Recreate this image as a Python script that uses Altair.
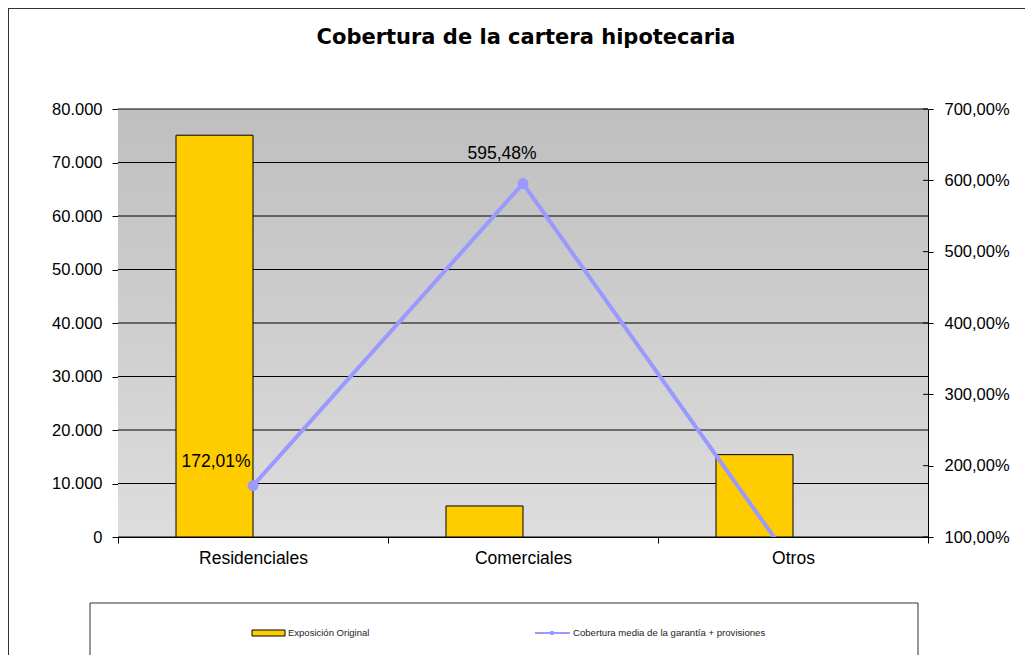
import altair as alt
import pandas as pd

categories = ["Residenciales", "Comerciales", "Otros"]
exposicion = [75100, 5800, 15400]
cobertura = [172.01, 595.48, 62.4]
left_ticks = [0, 10000, 20000, 30000, 40000, 50000, 60000, 70000, 80000]
right_ticks = [100, 200, 300, 400, 500, 600, 700]
title_text = "Cobertura de la cartera hipotecaria"
legend_bar = "Exposición Original"
legend_line = "Cobertura media de la garantía + provisiones"

df = pd.DataFrame({"cat": categories, "exp": exposicion, "cov": cobertura})
grid_df = pd.DataFrame({"g": left_ticks})
rtick_df = pd.DataFrame({"cov": right_ticks})

W, H = 810, 428
FONT = "Liberation Sans"
LINE_COLOR = "#9999ff"

xenc = alt.X("cat:N", sort=categories,
             scale=alt.Scale(paddingInner=0, paddingOuter=0),
             axis=alt.Axis(title=None, tickBand="extent", labelAngle=0,
                           labelFont=FONT, labelFontSize=17.5, labelColor="#000",
                           labelPadding=6, tickSize=6, tickColor="#000",
                           domainColor="#000", grid=False))

left_scale = alt.Scale(domain=[0, 80000], nice=False)
left_axis = alt.Axis(title=None, values=left_ticks, orient="left",
                     labelExpr="replace(format(datum.value, ',.0f'), ',', '.')",
                     labelFont=FONT, labelFontSize=16.5, labelColor="#000",
                     labelPadding=10, tickSize=6, tickColor="#000",
                     domainColor="#000", grid=False)
right_scale = alt.Scale(domain=[100, 700], nice=False)
right_axis = alt.Axis(title=None, values=right_ticks, orient="right",
                      labelExpr="replace(format(datum.value, '.2f'), '.', ',') + '%'",
                      labelFont=FONT, labelFontSize=16.5, labelColor="#000",
                      labelPadding=11, tickSize=5, tickColor="#000",
                      domainColor="#000", grid=False)
yleft = alt.Y("exp:Q", scale=left_scale, axis=left_axis)
yright = alt.Y("cov:Q", scale=right_scale, axis=right_axis)

one = alt.Data(values=[{"a": 1}])

background = alt.Chart(one).mark_rect(
    color=alt.Gradient(gradient="linear",
                       stops=[alt.GradientStop(color="#bfbfbf", offset=0),
                              alt.GradientStop(color="#dddddd", offset=1)],
                       x1=0, x2=0, y1=0, y2=1)
).encode(x=alt.value(0), x2=alt.value(W), y=alt.value(0), y2=alt.value(H))

grid = alt.Chart(grid_df).mark_rule(color="#000", strokeWidth=1).encode(
    y=alt.Y("g:Q", scale=left_scale, axis=left_axis))

bars = alt.Chart(df).mark_bar(
    width=77, xOffset=-38.5, color="#ffcc00", stroke="#000", strokeWidth=1
).encode(x=xenc, y=yleft)

left_layer = alt.layer(background, grid, bars)

rticks = alt.Chart(rtick_df).mark_rule(color="#000", strokeWidth=1).encode(
    x=alt.value(W - 5), x2=alt.value(W), y=yright)

line = alt.Chart(df).mark_line(color=LINE_COLOR, strokeWidth=4, clip=True).encode(
    x=xenc, y=yright)
points = alt.Chart(df).mark_circle(color=LINE_COLOR, size=120, opacity=1, clip=True).encode(
    x=xenc, y=yright)

lab_base = alt.Chart(df).transform_calculate(
    lbl="replace(format(datum.cov, '.2f'), '.', ',') + '%'")
lab1 = lab_base.transform_filter(alt.datum.cat == categories[0]).mark_text(
    font=FONT, fontSize=17.5, color="#000", dx=-37, dy=-24).encode(x=xenc, y=yright, text="lbl:N")
lab2 = lab_base.transform_filter(alt.datum.cat == categories[1]).mark_text(
    font=FONT, fontSize=17.5, color="#000", dx=-21, dy=-30).encode(x=xenc, y=yright, text="lbl:N")

cov_layer = alt.layer(rticks, line, points, lab1, lab2)

# title, chart frame and legend box (decoration)
title = alt.Chart(one).mark_text(font="DejaVu Sans", fontSize=21, fontWeight="bold",
                                 color="#000", align="center", baseline="middle").encode(
    x=alt.value(408), y=alt.value(-71), text=alt.value(title_text))
frame = alt.Chart(one).mark_rect(fill=None, stroke="#333", strokeWidth=2).encode(
    x=alt.value(-110), x2=alt.value(1040), y=alt.value(-101), y2=alt.value(700))
legbox = alt.Chart(one).mark_rect(fill="white", stroke="#333", strokeWidth=1).encode(
    x=alt.value(-28), x2=alt.value(800), y=alt.value(494), y2=alt.value(600))
legsym1 = alt.Chart(one).mark_rect(color="#ffcc00", stroke="#000", strokeWidth=1).encode(
    x=alt.value(134), x2=alt.value(167), y=alt.value(521), y2=alt.value(527))
legtxt1 = alt.Chart(one).mark_text(align="left", baseline="middle", font=FONT,
                                   fontSize=9.5, color="#222").encode(
    x=alt.value(170), y=alt.value(524), text=alt.value(legend_bar))
legsym2 = alt.Chart(one).mark_rule(color=LINE_COLOR, strokeWidth=2).encode(
    x=alt.value(417), x2=alt.value(452), y=alt.value(524))
legdot2 = alt.Chart(one).mark_circle(color=LINE_COLOR, size=20, opacity=1).encode(
    x=alt.value(434), y=alt.value(524))
legtxt2 = alt.Chart(one).mark_text(align="left", baseline="middle", font=FONT,
                                   fontSize=9.6, color="#222").encode(
    x=alt.value(455), y=alt.value(524), text=alt.value(legend_line))

deco = alt.layer(title, frame, legbox, legsym1, legtxt1, legsym2, legdot2, legtxt2)

chart = alt.layer(left_layer, cov_layer, deco).resolve_scale(y="independent").properties(
    width=W, height=H,
    autosize=alt.AutoSizeParams(type="none"),
    padding={"left": 110, "top": 101, "right": 97, "bottom": 118},
).configure_view(stroke="#666", strokeWidth=1).configure(background="white")

chart.save("out.html", embed_options={"renderer": "svg", "actions": False})
